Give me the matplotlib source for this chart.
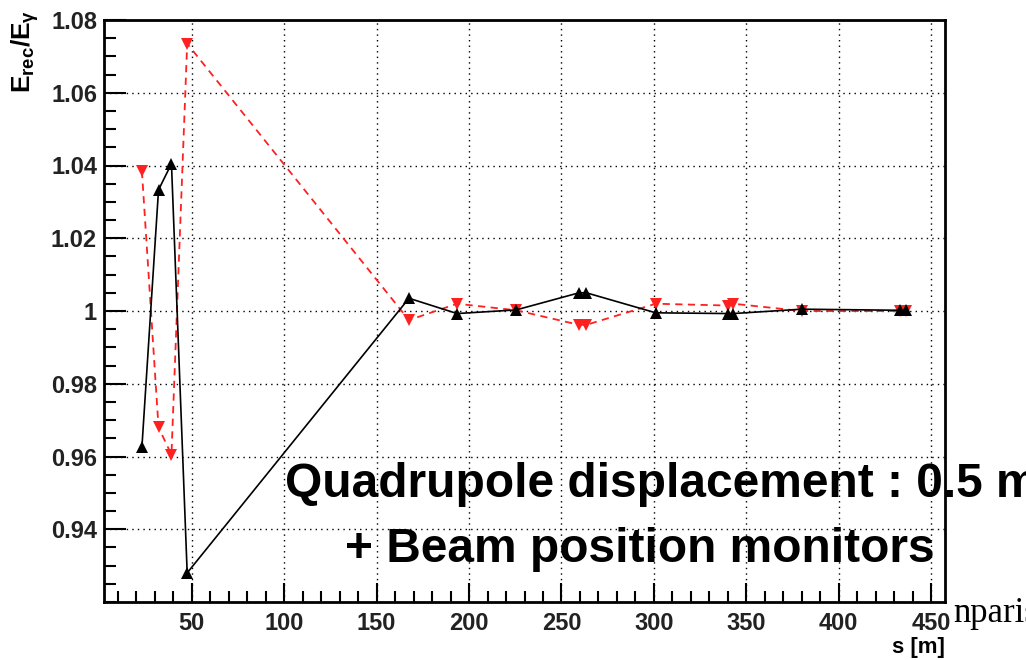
import matplotlib
matplotlib.use('Agg')
import matplotlib.pyplot as plt
from matplotlib.ticker import MultipleLocator, FixedFormatter, FixedLocator

plt.rcParams['font.family'] = ['Liberation Sans', 'DejaVu Sans']
plt.rcParams['mathtext.fontset'] = 'custom'
plt.rcParams['mathtext.rm'] = 'Liberation Sans:bold'
plt.rcParams['mathtext.it'] = 'Liberation Sans:bold'
plt.rcParams['mathtext.bf'] = 'Liberation Sans:bold'

# Position along the line (m)
s_pos = [23, 32, 39, 47.5, 167.5, 193.5, 225.5, 259.5, 263.5, 301, 340, 343, 380, 433, 436.5]

# E_rec / E_gamma, black (upward triangles)
ratio_black = [0.9625, 1.0333, 1.0405, 0.9280, 1.0035, 0.9993, 1.0003, 1.0050, 1.0050,
               0.9995, 0.9993, 0.9993, 1.0005, 1.0002, 1.0002]

# E_rec / E_gamma, red dashed (downward triangles)
ratio_red = [1.0385, 0.9680, 0.9605, 1.0735, 0.9975, 1.0020, 1.0002, 0.9962, 0.9962,
             1.0020, 1.0015, 1.0020, 1.0000, 1.0000, 1.0000]

x_ticks = [50, 100, 150, 200, 250, 300, 350, 400, 450]
y_ticks = [0.94, 0.96, 0.98, 1.00, 1.02, 1.04, 1.06, 1.08]
y_tick_labels = ['0.94', '0.96', '0.98', '1', '1.02', '1.04', '1.06', '1.08']

fig = plt.figure(figsize=(10.26, 6.6), dpi=100)
ax = fig.add_axes([104 / 1026, 58 / 660, 841 / 1026, 582 / 660])

ax.plot(s_pos, ratio_red, color='#ff2020', linestyle=(0, (4, 3)), linewidth=1.3,
        marker='v', markersize=8, markeredgewidth=0, zorder=3)
ax.plot(s_pos, ratio_black, color='black', linestyle='-', linewidth=1.2,
        marker='^', markersize=8, markeredgewidth=0, zorder=4)

ax.set_xlim(2.5, 457.5)
ax.set_ylim(0.92, 1.08)

ax.xaxis.set_major_locator(FixedLocator(x_ticks))
ax.xaxis.set_minor_locator(MultipleLocator(10))
ax.yaxis.set_major_locator(FixedLocator(y_ticks))
ax.yaxis.set_major_formatter(FixedFormatter(y_tick_labels))
ax.yaxis.set_minor_locator(MultipleLocator(0.005))

ax.grid(True, which='major', color='black', linestyle=(0, (1, 3)), linewidth=1.0)

ax.tick_params(axis='both', which='both', direction='in', width=1.5, top=False, right=False)
ax.tick_params(axis='y', which='major', length=16, pad=5)
ax.tick_params(axis='y', which='minor', length=8.5)
ax.tick_params(axis='x', which='major', length=13.5, pad=7)
ax.tick_params(axis='x', which='minor', length=8)
for lab in ax.get_xticklabels() + ax.get_yticklabels():
    lab.set_fontsize(17)
    lab.set_fontweight('bold')
    lab.set_color('#222222')

for sp in ax.spines.values():
    sp.set_linewidth(2)

# axis titles, ROOT style (placed at the end of the axes)
fig.text(945 / 1026, 1 - 647 / 660, 's [m]', ha='right', va='center',
         fontsize=16, fontweight='bold')
fig.text(25 / 1026, 1 - 10 / 660, r'$E_{rec}/E_{\gamma}$', rotation=90,
         ha='center', va='top', fontsize=19)

# overlay annotation
fig.text(285 / 1026, 1 - 497 / 660, 'Quadrupole displacement : 0.5 m',
         ha='left', va='baseline', fontsize=34.5, fontweight='bold')
fig.text(345 / 1026, 1 - 562 / 660, '+ Beam position monitors',
         ha='left', va='baseline', fontsize=34.5, fontweight='bold')
fig.text(953 / 1026, 1 - 622 / 660, 'nparis', ha='left', va='baseline',
         fontsize=25, family='Liberation Serif')

fig.savefig('out.png', dpi=100)
